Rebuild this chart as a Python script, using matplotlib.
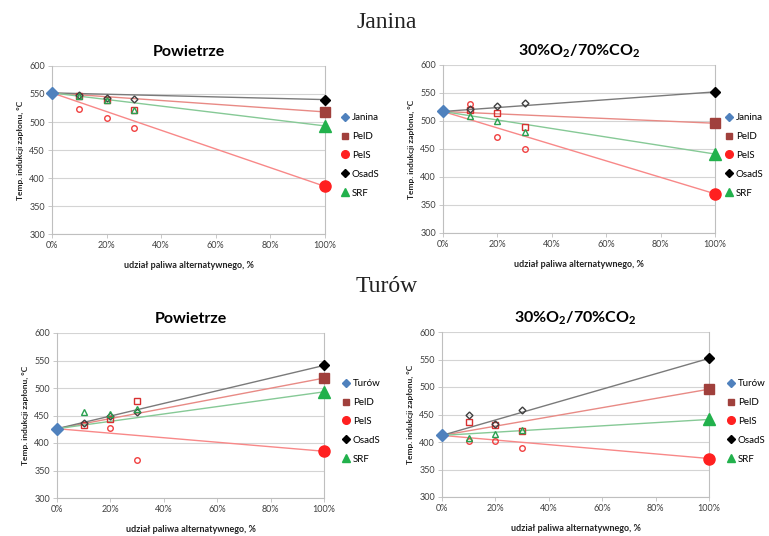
import matplotlib
matplotlib.use("Agg")
import matplotlib.pyplot as plt
import numpy as np
from matplotlib.lines import Line2D
from matplotlib.ticker import FuncFormatter

plt.rcParams['font.family'] = ['Lato', 'DejaVu Sans']
plt.rcParams['mathtext.fontset'] = 'custom'
plt.rcParams['mathtext.rm'] = 'Lato'
plt.rcParams['mathtext.bf'] = 'Lato:bold'

# ---------------- data ----------------
shares = [0, 10, 20, 30, 100]          # % alternative fuel
fuels = ["PelD", "PelS", "OsadS", "SRF"]

section_titles = ["Janina", "Turów"]
panel_titles = ["Powietrze", r"30%O$_\mathbf{2}$/70%CO$_\mathbf{2}$"]
y_ticks = [300, 350, 400, 450, 500, 550, 600]
x_ticks = [0, 20, 40, 60, 80, 100]

# Janina - air
jan_air_coal = 552
jan_air_PelD = [547, 539, 522, 518]
jan_air_PelS = [524, 508, 490, 385]
jan_air_OsadS = [548, 542, 541, 540]
jan_air_SRF = [547, 540, 521, 493]

# Janina - 30%O2/70%CO2
jan_oxy_coal = 517
jan_oxy_PelD = [519, 515, 489, 496]
jan_oxy_PelS = [530, 471, 450, 370]
jan_oxy_OsadS = [522, 526, 533, 552]
jan_oxy_SRF = [509, 500, 480, 441]

# Turów - air
tur_air_coal = 426
tur_air_PelD = [433, 443, 477, 518]
tur_air_PelS = [np.nan, 428, 370, 385]
tur_air_OsadS = [437, 449, 457, 541]
tur_air_SRF = [457, 453, 462, 493]

# Turów - 30%O2/70%CO2
tur_oxy_coal = 412
tur_oxy_PelD = [437, 431, 420, 496]
tur_oxy_PelS = [402, 402, 389, 370]
tur_oxy_OsadS = [449, 432, 458, 552]
tur_oxy_SRF = [408, 414, 422, 441]

panels = [
    ("Janina", 0, jan_air_coal, [jan_air_PelD, jan_air_PelS, jan_air_OsadS, jan_air_SRF]),
    ("Janina", 1, jan_oxy_coal, [jan_oxy_PelD, jan_oxy_PelS, jan_oxy_OsadS, jan_oxy_SRF]),
    ("Turów", 0, tur_air_coal, [tur_air_PelD, tur_air_PelS, tur_air_OsadS, tur_air_SRF]),
    ("Turów", 1, tur_oxy_coal, [tur_oxy_PelD, tur_oxy_PelS, tur_oxy_OsadS, tur_oxy_SRF]),
]

# ---------------- styles ----------------
coal_color = '#4F81BD'
big_style = {
    "PelD": dict(marker='s', color='#A0403C', ms=7.5),
    "PelS": dict(marker='o', color='#FF2020', ms=8),
    "OsadS": dict(marker='D', color='#000000', ms=5.5),
    "SRF": dict(marker='^', color='#22B14C', ms=8),
}
legend_ms = {"PelD": 5, "PelS": 5.5, "OsadS": 3.8, "SRF": 5.5}
small_style = {
    "PelD": dict(marker='s', color='#D83030', ms=4),
    "PelS": dict(marker='o', color='#F04040', ms=4),
    "OsadS": dict(marker='D', color='#404040', ms=3.5),
    "SRF": dict(marker='^', color='#2AA050', ms=4),
}
line_color = {"PelD": '#E88A85', "PelS": '#F88888', "OsadS": '#7A7A7A', "SRF": '#86C996'}

W, H = 769, 536
fig = plt.figure(figsize=(W / 100, H / 100), dpi=100)

axes_px = [  # left, right, top, bottom in pixels
    (52, 325, 66, 234),
    (443, 715, 65, 233),
    (57, 324, 333, 498),
    (442, 709, 332, 497),
]
legend_px = [(341, 118), (725, 118), (342, 384), (727, 384)]

for i, (coal_name, tidx, coal_val, series) in enumerate(panels):
    l, r, t, b = axes_px[i]
    ax = fig.add_axes([l / W, 1 - b / H, (r - l) / W, (b - t) / H])
    ax.set_xlim(0, 100)
    ax.set_ylim(300, 600)
    ax.set_yticks(y_ticks)
    ax.set_xticks(x_ticks)
    ax.xaxis.set_major_formatter(FuncFormatter(lambda v, p: f"{v:.0f}%"))
    ax.grid(axis='y', color='#D4D4D4', lw=0.8)
    ax.set_axisbelow(True)
    for s in ['left', 'bottom', 'right']:
        ax.spines[s].set_color('#BFBFBF')
        ax.spines[s].set_linewidth(0.8)
    ax.spines['top'].set_visible(False)
    ax.tick_params(axis='both', labelsize=6.5, colors='#404040', length=3, width=0.6, pad=2)
    ax.tick_params(axis='both', color='#BFBFBF')

    ax.set_xlabel("udział paliwa alternatywnego, %", fontsize=6.5, fontweight='bold', labelpad=8, color='#222222')
    ax.set_ylabel("Temp. indukcji zapłonu, °C", fontsize=6, fontweight='bold', labelpad=4, color='#222222')
    ax.set_title(panel_titles[tidx], fontsize=11.5, fontweight='bold', pad=7)

    # trend lines coal -> 100 %
    for f, vals in zip(fuels, series):
        ax.plot([shares[0], shares[-1]], [coal_val, vals[-1]], color=line_color[f], lw=1.0, zorder=2)
    # intermediate blends (open markers)
    for f, vals in zip(fuels, series):
        st = small_style[f]
        ax.plot(shares[1:4], vals[:3], ls='none', marker=st['marker'], ms=st['ms'],
                mfc='none', mec=st['color'], mew=1.0, zorder=3, clip_on=False)
    # pure fuels
    for f, vals in zip(fuels, series):
        st = big_style[f]
        ax.plot([shares[-1]], [vals[-1]], ls='none', marker=st['marker'], ms=st['ms'],
                color=st['color'], zorder=4, clip_on=False)
    ax.plot([shares[0]], [coal_val], ls='none', marker='D', ms=6.5, color=coal_color, zorder=5, clip_on=False)

    # legend
    handles = [Line2D([], [], ls='none', marker='D', ms=4, color=coal_color, label=coal_name)]
    for f in fuels:
        st = big_style[f]
        handles.append(Line2D([], [], ls='none', marker=st['marker'], ms=legend_ms[f], color=st['color'], label=f))
    lx, ly = legend_px[i]
    fig.legend(handles=handles, loc='upper left', bbox_to_anchor=(lx / W, 1 - (ly - 5) / H),
               frameon=False, fontsize=7, handlelength=0.8, handletextpad=0.3,
               labelspacing=1.02, borderaxespad=0, borderpad=0)

fig.text(387 / W, 1 - 22 / H, section_titles[0], ha='center', va='center',
         fontsize=17, family=['Liberation Serif', 'DejaVu Serif'], color='#222222')
fig.text(387 / W, 1 - 287 / H, section_titles[1], ha='center', va='center',
         fontsize=17, family=['Liberation Serif', 'DejaVu Serif'], color='#222222')

fig.savefig("out.png", dpi=100)
